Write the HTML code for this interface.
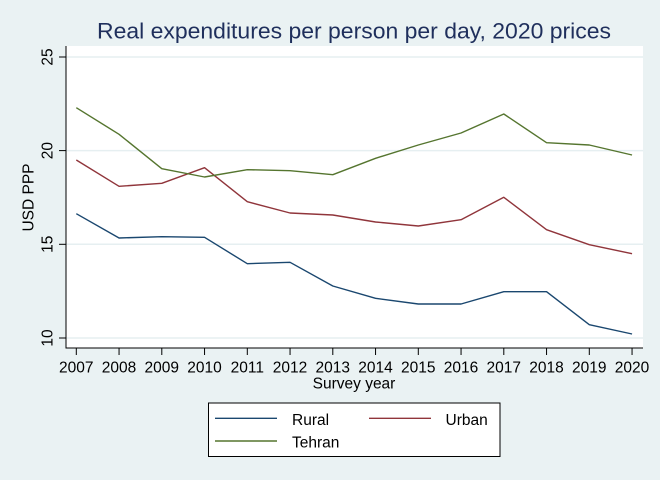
<!DOCTYPE html>
<html><head><meta charset="utf-8"><style>
html,body{margin:0;padding:0;background:#eaf2f3;}
svg{display:block;font-family:"Liberation Sans",Arial,sans-serif;}
</style></head><body>
<svg width="660" height="480" viewBox="0 0 660 480" xmlns="http://www.w3.org/2000/svg">
<rect x="0" y="0" width="660" height="480" fill="#eaf2f3"/>
<text x="354" y="38.5" font-size="22" fill="#1f2f5c" text-anchor="middle" textLength="514" lengthAdjust="spacingAndGlyphs">Real expenditures per person per day, 2020 prices</text>
<rect x="66" y="46" width="577" height="302" fill="#ffffff"/>
<g stroke="#e6eff1" stroke-width="1.5">
<line x1="66" y1="57" x2="643" y2="57"/>
<line x1="66" y1="150.6" x2="643" y2="150.6"/>
<line x1="66" y1="244.3" x2="643" y2="244.3"/>
<line x1="66" y1="338" x2="643" y2="338"/>
</g>
<g stroke="#000" stroke-width="1">
<line x1="66" y1="46" x2="66" y2="348.5"/>
<line x1="65.5" y1="348" x2="643" y2="348"/>
<line x1="59" y1="57" x2="66" y2="57"/>
<line x1="59" y1="150.6" x2="66" y2="150.6"/>
<line x1="59" y1="244.3" x2="66" y2="244.3"/>
<line x1="59" y1="338" x2="66" y2="338"/>
</g>
<g stroke="#000" stroke-width="1">
<line x1="76.3" y1="348" x2="76.3" y2="355"/>
<line x1="119.05" y1="348" x2="119.05" y2="355"/>
<line x1="161.8" y1="348" x2="161.8" y2="355"/>
<line x1="204.55" y1="348" x2="204.55" y2="355"/>
<line x1="247.3" y1="348" x2="247.3" y2="355"/>
<line x1="290.05" y1="348" x2="290.05" y2="355"/>
<line x1="332.8" y1="348" x2="332.8" y2="355"/>
<line x1="375.55" y1="348" x2="375.55" y2="355"/>
<line x1="418.3" y1="348" x2="418.3" y2="355"/>
<line x1="461.05" y1="348" x2="461.05" y2="355"/>
<line x1="503.8" y1="348" x2="503.8" y2="355"/>
<line x1="546.55" y1="348" x2="546.55" y2="355"/>
<line x1="589.3" y1="348" x2="589.3" y2="355"/>
<line x1="632.05" y1="348" x2="632.05" y2="355"/>
</g>
<g font-size="15.5" fill="#000" text-anchor="middle">
<text x="76.3" y="372.5">2007</text>
<text x="119.05" y="372.5">2008</text>
<text x="161.8" y="372.5">2009</text>
<text x="204.55" y="372.5">2010</text>
<text x="247.3" y="372.5">2011</text>
<text x="290.05" y="372.5">2012</text>
<text x="332.8" y="372.5">2013</text>
<text x="375.55" y="372.5">2014</text>
<text x="418.3" y="372.5">2015</text>
<text x="461.05" y="372.5">2016</text>
<text x="503.8" y="372.5">2017</text>
<text x="546.55" y="372.5">2018</text>
<text x="589.3" y="372.5">2019</text>
<text x="632.05" y="372.5">2020</text>
<text x="354" y="388.5">Survey year</text>
</g>
<g font-size="15.5" fill="#000" text-anchor="middle">
<text transform="translate(52.7,57) rotate(-90)">25</text>
<text transform="translate(52.7,150.6) rotate(-90)">20</text>
<text transform="translate(52.7,244.3) rotate(-90)">15</text>
<text transform="translate(52.7,338) rotate(-90)">10</text>
<text transform="translate(33.3,197.5) rotate(-90)">USD PPP</text>
</g>
<g fill="none" stroke-width="1.4" stroke-linejoin="round">
<polyline stroke="#1a476f" points="76.3,213.7 119.05,238 161.8,236.7 204.55,237.3 247.3,263.7 290.05,262.3 332.8,286 375.55,298.3 418.3,304 461.05,304 503.8,291.7 546.55,291.7 589.3,324.7 632.05,334"/>
<polyline stroke="#90353b" points="76.3,160 119.05,186.3 161.8,183.3 204.55,167.7 247.3,201.7 290.05,213 332.8,215 375.55,222 418.3,226 461.05,219.7 503.8,197.3 546.55,229.7 589.3,244.7 632.05,253.7"/>
<polyline stroke="#55752f" points="76.3,107.7 119.05,134.3 161.8,168.7 204.55,177 247.3,169.7 290.05,170.7 332.8,174.7 375.55,158.3 418.3,145 461.05,133 503.8,114 546.55,142.7 589.3,145 632.05,155"/>
</g>
<rect x="208.5" y="403" width="291.5" height="53.5" fill="#ffffff" stroke="#000" stroke-width="1"/>
<g stroke-width="1.4">
<line x1="215" y1="418.3" x2="277" y2="418.3" stroke="#1a476f"/>
<line x1="369" y1="418.3" x2="431" y2="418.3" stroke="#90353b"/>
<line x1="215" y1="441" x2="277" y2="441" stroke="#55752f"/>
</g>
<g font-size="15.5" fill="#000">
<text x="292" y="425">Rural</text>
<text x="445.5" y="425">Urban</text>
<text x="292" y="447.7">Tehran</text>
</g>
</svg>
</body></html>
